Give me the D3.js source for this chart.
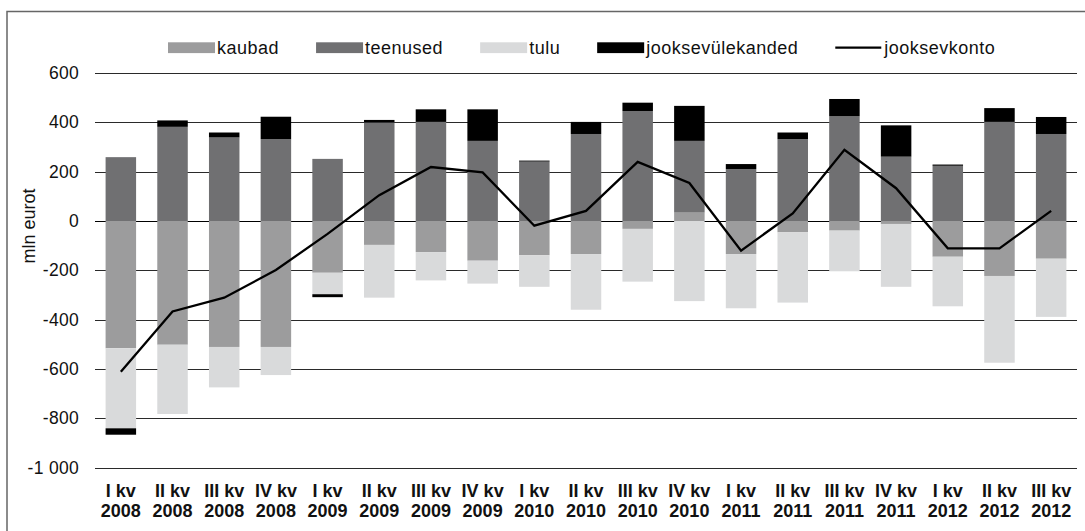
<!DOCTYPE html>
<html>
<head>
<meta charset="utf-8">
<script src="https://cdn.jsdelivr.net/npm/d3@7"></script>
<style>
  html, body { margin: 0; padding: 0; background: #fff; }
  svg { display: block; }
  text { font-family: "Liberation Sans", Arial, Helvetica, sans-serif; fill: #111; }
</style>
</head>
<body>
<svg id="chart" width="1085" height="531"></svg>
<script>
// ---- data ----
const quarters = ["I kv","II kv","III kv","IV kv","I kv","II kv","III kv","IV kv","I kv","II kv","III kv","IV kv","I kv","II kv","III kv","IV kv","I kv","II kv","III kv"];
const years    = ["2008","2008","2008","2008","2009","2009","2009","2009","2010","2010","2010","2010","2011","2011","2011","2011","2012","2012","2012"];
const kaubad   = [-516,-502,-511,-511,-210,-97,-126,-161,-139,-134,-32,34,-134,-46,-39,-12,-145,-223,-153];
const teenused = [259,382,339,332,252,400,402,325,241,353,446,291,211,332,425,261,224,402,353];
const tulu     = [-325,-281,-164,-114,-87,-214,-115,-93,-128,-226,-214,-325,-220,-285,-165,-255,-201,-352,-236];
const jooksevylekanded = [-26,26,20,91,-12,10,51,128,4,49,34,142,20,27,70,127,5,56,69];
const jooksevkonto = [-612,-367,-311,-199,-52,105,219,197,-19,41,240,154,-120,31,289,133,-111,-111,41];
const yTicks = [600,400,200,0,-200,-400,-600,-800,-1000];
const seriesNames = ["kaubad","teenused","tulu","jooksevülekanded"];
const lineName = "jooksevkonto";
const yTitle = "mln eurot";

// ---- build table ----
const cats = quarters.map((q,i) => q + " " + years[i]);
const seriesValues = [kaubad, teenused, tulu, jooksevylekanded];
const table = cats.map((c,i) => {
  const row = {cat: c};
  seriesNames.forEach((s,k) => row[s] = seriesValues[k][i]);
  return row;
});
const colors = {"kaubad":"#9c9c9d","teenused":"#707072","tulu":"#d9dadb","jooksevülekanded":"#000000"};

const svg = d3.select("#chart");

// frame
svg.append("rect").attr("x",7).attr("y",11.5).attr("width",1100).attr("height",540)
  .attr("fill","none").attr("stroke","#666").attr("stroke-width",1.5);

const x = d3.scaleBand().domain(cats).range([95,1077]).paddingInner(0.41).paddingOuter(0.205);
const y = d3.scaleLinear().domain([-1000,600]).range([467.5,73.1]);

const fmt = d3.formatLocale({decimal:",", thousands:" ", grouping:[3], currency:["",""], minus:"-"}).format(",d");

// gridlines
svg.append("g").selectAll("line").data(yTicks).join("line")
  .attr("x1",95).attr("x2",1077)
  .attr("y1",d=>Math.round(y(d))+0.5).attr("y2",d=>Math.round(y(d))+0.5)
  .attr("stroke", d => d===0 ? "#000" : "#2a2a2a").attr("stroke-width",1.2);

// y labels
svg.append("g").selectAll("text").data(yTicks).join("text")
  .attr("x",79).attr("y",d=>y(d)+6)
  .attr("text-anchor","end").attr("font-size",17.5).attr("letter-spacing",0.3)
  .text(d=>fmt(d));

// y title
svg.append("text").attr("transform","translate(35,226) rotate(-90)")
  .attr("text-anchor","middle").attr("font-size",18).text(yTitle);

// stacked bars
const stack = d3.stack().keys(seriesNames).offset(d3.stackOffsetDiverging);
const stacked = stack(table);
svg.append("g").selectAll("g").data(stacked).join("g")
  .attr("fill", d => colors[d.key])
  .selectAll("rect").data(d=>d).join("rect")
  .attr("x", d => x(d.data.cat))
  .attr("width", x.bandwidth())
  .attr("y", d => y(Math.max(d[0],d[1])))
  .attr("height", d => Math.abs(y(d[0]) - y(d[1])));

// line
const line = d3.line().x((d,i)=>x(cats[i]) + x.bandwidth()/2).y(d=>y(d));
svg.append("path").datum(jooksevkonto).attr("d",line)
  .attr("fill","none").attr("stroke","#000").attr("stroke-width",2.3).attr("stroke-linejoin","miter");

// x labels
const xl = svg.append("g").selectAll("text").data(cats).join("text")
  .attr("text-anchor","middle").attr("font-size",18).attr("font-weight","bold");
xl.append("tspan").attr("x",d=>x(d)+x.bandwidth()/2).attr("y",496.5).text((d,i)=>quarters[i]);
xl.append("tspan").attr("x",d=>x(d)+x.bandwidth()/2).attr("y",516.5).text((d,i)=>years[i]);

// legend
const lg = svg.append("g");
let lx = 168;
const ly = 47.7;
seriesNames.concat([lineName]).forEach((name) => {
  if (name === lineName) {
    lg.append("line").attr("x1",lx).attr("x2",lx+46).attr("y1",ly).attr("y2",ly)
      .attr("stroke","#000").attr("stroke-width",2.3);
  } else {
    lg.append("rect").attr("x",lx).attr("y",ly-5.4).attr("width",47).attr("height",10.8)
      .attr("fill",colors[name]);
  }
  const t = lg.append("text").attr("x",lx+49).attr("y",ly+6).attr("font-size",18)
    .attr("letter-spacing",0.5).text(name);
  lx = lx + 49 + t.node().getComputedTextLength() + 37;
});
</script>
</body>
</html>
